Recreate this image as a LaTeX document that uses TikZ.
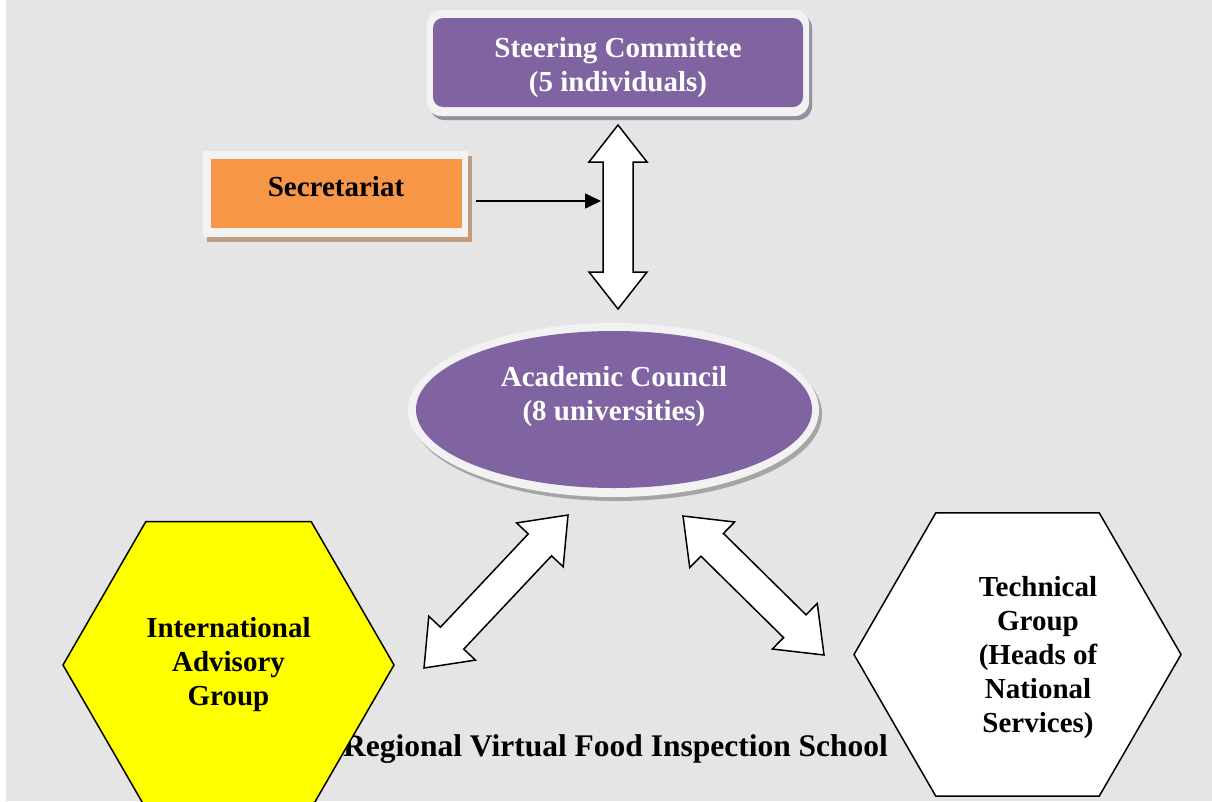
\documentclass[tikz,border=0pt]{standalone}
\usepackage{fontspec}
\setmainfont{Liberation Serif}
\usetikzlibrary{calc,shapes.geometric,shadows,arrows.meta}

\definecolor{pagegrey}{HTML}{E5E5E5}
\definecolor{framelight}{HTML}{F2F2F2}
\definecolor{boxpurple}{HTML}{8064A2}
\definecolor{boxorange}{HTML}{F79646}
\definecolor{hexyellow}{HTML}{FFFF00}
\definecolor{purpleshade}{HTML}{9590A0}
\definecolor{greyshade}{HTML}{A5A5A5}
\definecolor{brownshade}{HTML}{C29C7E}

% fat white double arrow between two tips: head length, half head width, half shaft width
\newcommand{\fatarrow}[5]{%
  \draw[fatline]
    (#1) -- ($(#1)!#3!(#2)!#4!90:(#2)$) -- ($(#1)!#3!(#2)!#5!90:(#2)$)
    -- ($(#2)!#3!(#1)!#5!-90:(#1)$) -- ($(#2)!#3!(#1)!#4!-90:(#1)$)
    -- (#2)
    -- ($(#2)!#3!(#1)!#4!90:(#1)$) -- ($(#2)!#3!(#1)!#5!90:(#1)$)
    -- ($(#1)!#3!(#2)!#5!-90:(#2)$) -- ($(#1)!#3!(#2)!#4!-90:(#2)$)
    -- cycle;}

\tikzset{
  boldtext/.style={font=\fontsize{29}{34}\selectfont\bfseries, align=center, inner sep=0pt},
  whitetext/.style={boldtext, text=white},
  plainbox/.style={inner sep=0pt, outer sep=0pt},
  fatline/.style={draw=black, fill=white, line width=1.5pt, line join=miter},
  thinarrow/.style={line width=1.6pt, -{Triangle[length=16pt,width=15pt]}},
  hexagon/.style={regular polygon, regular polygon sides=6, draw=black,
    line width=1.5pt, inner sep=0pt, outer sep=0pt},
}

\begin{document}
\begin{tikzpicture}[x=1pt,y=-1pt]
  \useasboundingbox (0,0) rectangle (1212,801);
  \clip (0,0) rectangle (1212,801);
  \fill[pagegrey] (6,0) rectangle (1212,801);

  % school title, partly covered by the advisory hexagon
  \node[boldtext, font=\fontsize{31.5}{36}\selectfont\bfseries, anchor=base] (title)
    at (615.5,756) {Regional Virtual Food Inspection School};

  % steering committee
  \node[plainbox, fill=framelight, rounded corners=14pt,
        minimum width=382pt, minimum height=106pt,
        drop shadow={shadow xshift=3pt, shadow yshift=-4pt, fill=purpleshade, opacity=1}]
        (scframe) at (618,63) {};
  \node[plainbox, fill=boxpurple, rounded corners=10pt,
        minimum width=370pt, minimum height=89pt] (sc) at (618,62.5) {};
  \node[whitetext] (sctext) at (618,68) {Steering Committee\\(5 individuals)};

  % secretariat
  \node[plainbox, fill=framelight, minimum width=265pt, minimum height=86pt,
        drop shadow={shadow xshift=4pt, shadow yshift=-5pt, fill=brownshade, opacity=1}]
        (secframe) at (335.5,194) {};
  \node[plainbox, fill=boxorange, minimum width=251pt, minimum height=69pt]
        (sec) at (336.5,193.5) {};
  \node[boldtext] (sectext) at (336,187) {Secretariat};

  % academic council
  \node[plainbox, ellipse, fill=framelight, minimum width=411pt, minimum height=174pt,
        drop shadow={shadow xshift=3pt, shadow yshift=-4pt, fill=greyshade, opacity=1}]
        (acframe) at (613.5,410) {};
  \node[plainbox, ellipse, fill=boxpurple, minimum width=396pt, minimum height=157pt]
        (ac) at (614,409.5) {};
  \node[whitetext] (actext) at (614,397) {Academic Council\\(8 universities)};

  % arrow tips
  \coordinate (vtop) at (618,125);
  \coordinate (vbot) at (618,309);
  \coordinate (sidein) at (601,201);
  \coordinate (ltop) at (568,515);
  \coordinate (lbot) at (424,668);
  \coordinate (rtop) at (683,516);
  \coordinate (rbot) at (824,655);

  \fatarrow{vtop}{vbot}{37pt}{29pt}{15pt}
  \fatarrow{ltop}{lbot}{41pt}{32pt}{16pt}
  \fatarrow{rtop}{rbot}{41pt}{32pt}{16pt}

  \draw[thinarrow] ([xshift=8pt,yshift=-7pt]secframe.east) -- (sidein);

  % advisory and technical groups
  \node[hexagon, fill=hexyellow, minimum size=331pt, boldtext]
        (iag) at (228.5,665) {International\\Advisory\\Group};
  \node[hexagon, fill=white, minimum size=327pt] (tg) at (1017.5,654.5) {};
  \node[boldtext] (tgtext) at (1038,657.5)
        {Technical\\Group\\(Heads of\\National\\Services)};
\end{tikzpicture}
\end{document}
